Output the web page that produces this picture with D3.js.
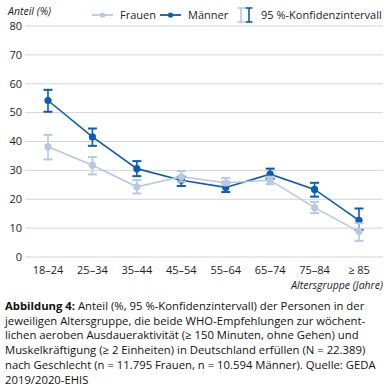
<!DOCTYPE html>
<html>
<head>
<meta charset="utf-8">
<script src="https://cdn.jsdelivr.net/npm/d3@7"></script>
<style>
  body { margin: 0; background: #fff; }
  text { font-family: "Open Sans", sans-serif; fill: #1c1c2c; }
</style>
</head>
<body>
<svg id="vis"></svg>
<script>
const WIDTH = 387;
const HEIGHT = 387;

const groups = ["18–24", "25–34", "35–44", "45–54", "55–64", "65–74", "75–84", "≥ 85"];
const yTicks = [0, 10, 20, 30, 40, 50, 60, 70, 80];

// Frauen: value, lower, upper
const frauen = [38.2, 31.8, 24.3, 27.8, 25.7, 26.6, 17.1, 8.8];
const frauenLo = [33.8, 28.6, 22.0, 26.1, 24.9, 25.2, 15.2, 5.6];
const frauenHi = [42.3, 34.6, 26.6, 29.8, 27.4, 27.8, 19.1, 11.7];

// Männer
const maenner = [54.2, 41.6, 30.6, 26.6, 24.1, 28.7, 23.4, 12.7];
const maennerLo = [50.3, 38.5, 28.0, 24.6, 22.5, 27.1, 20.9, 9.4];
const maennerHi = [57.9, 44.5, 33.2, 27.8, 25.8, 30.6, 25.7, 16.8];

const captionLines = [
  ["Abbildung 4:", " Anteil (%, 95 %-Konfidenzintervall) der Personen in der"],
  ["", "jeweiligen Altersgruppe, die beide WHO-Empfehlungen zur wöchent-"],
  ["", "lichen aeroben Ausdaueraktivität (≥ 150 Minuten, ohne Gehen) und"],
  ["", "Muskelkräftigung (≥ 2 Einheiten) in Deutschland erfüllen (N = 22.389)"],
  ["", "nach Geschlecht (n = 11.795 Frauen, n = 10.594 Männer). Quelle: GEDA"],
  ["", "2019/2020-EHIS"]
];

const C_F = "#b8c8e3";
const C_M = "#0d5cb3";

const margin = {top: 26, right: 4, bottom: 130, left: 25};

const svg = d3.select("#vis").attr("width", WIDTH).attr("height", HEIGHT);

const x = d3.scalePoint()
  .domain(groups)
  .range([48, 359]);

const y = d3.scaleLinear()
  .domain([0, 80])
  .range([257, 26]);

// gridlines
svg.append("g")
  .selectAll("line")
  .data(yTicks)
  .join("line")
  .attr("x1", margin.left)
  .attr("x2", WIDTH - margin.right)
  .attr("y1", d => y(d))
  .attr("y2", d => y(d))
  .attr("stroke", "#d4d4d4")
  .attr("stroke-width", 1);

// y labels
svg.append("g")
  .selectAll("text")
  .data(yTicks)
  .join("text")
  .attr("x", 22)
  .attr("y", d => y(d))
  .attr("dy", "0.35em")
  .attr("text-anchor", "end")
  .attr("font-size", 11)
  .text(d => d);

// x labels
svg.append("g")
  .selectAll("text")
  .data(groups)
  .join("text")
  .attr("x", d => x(d))
  .attr("y", 274)
  .attr("text-anchor", "middle")
  .attr("font-size", 11)
  .text(d => d);

svg.append("text")
  .attr("x", 383)
  .attr("y", 289)
  .attr("text-anchor", "end")
  .attr("font-size", 10.5)
  .attr("font-style", "italic")
  .text("Altersgruppe (Jahre)");

svg.append("text")
  .attr("x", 8)
  .attr("y", 15)
  .attr("font-size", 10.5)
  .attr("font-style", "italic")
  .text("Anteil (%)");

function drawSeries(vals, lo, hi, color) {
  const g = svg.append("g");
  const line = d3.line()
    .x((d, i) => x(groups[i]))
    .y(d => y(d));
  g.append("path")
    .datum(vals)
    .attr("d", line)
    .attr("fill", "none")
    .attr("stroke", color)
    .attr("stroke-width", 1.6);
  const eb = g.selectAll(".eb")
    .data(vals.map((v, i) => ({g: groups[i], lo: lo[i], hi: hi[i]})))
    .join("g");
  eb.append("line")
    .attr("x1", d => x(d.g)).attr("x2", d => x(d.g))
    .attr("y1", d => y(d.lo)).attr("y2", d => y(d.hi))
    .attr("stroke", color).attr("stroke-width", 1.6);
  [d => d.lo, d => d.hi].forEach(f => {
    eb.append("line")
      .attr("x1", d => x(d.g) - 4.5).attr("x2", d => x(d.g) + 4.5)
      .attr("y1", d => y(f(d))).attr("y2", d => y(f(d)))
      .attr("stroke", color).attr("stroke-width", 2);
  });
  g.selectAll("circle")
    .data(vals)
    .join("circle")
    .attr("cx", (d, i) => x(groups[i]))
    .attr("cy", d => y(d))
    .attr("r", 3.6)
    .attr("fill", color);
}

drawSeries(maenner, maennerLo, maennerHi, C_M);
drawSeries(frauen, frauenLo, frauenHi, C_F);

// legend
const leg = svg.append("g");
const legItems = [
  {label: "Frauen", color: C_F, x0: 92},
  {label: "Männer", color: C_M, x0: 160}
];
legItems.forEach(it => {
  leg.append("line")
    .attr("x1", it.x0).attr("x2", it.x0 + 21)
    .attr("y1", 15).attr("y2", 15)
    .attr("stroke", it.color).attr("stroke-width", 1.8);
  leg.append("circle")
    .attr("cx", it.x0 + 10.5).attr("cy", 15).attr("r", 2.6)
    .attr("fill", it.color);
  leg.append("text")
    .attr("x", it.x0 + 28).attr("y", 15).attr("dy", "0.35em")
    .attr("font-size", 11)
    .text(it.label);
});
// CI icon
[[C_F, 241], [C_M, 249]].forEach(([c, cx]) => {
  leg.append("line").attr("x1", cx).attr("x2", cx).attr("y1", 8).attr("y2", 22)
    .attr("stroke", c).attr("stroke-width", 1.6);
  [8, 22].forEach(yy => leg.append("line")
    .attr("x1", cx - 3.5).attr("x2", cx + 3.5).attr("y1", yy).attr("y2", yy)
    .attr("stroke", c).attr("stroke-width", 1.6));
});
leg.append("text")
  .attr("x", 261).attr("y", 15).attr("dy", "0.35em")
  .attr("font-size", 11)
  .text("95 %-Konfidenzintervall");

// caption
const cap = svg.append("text")
  .attr("font-size", 11.3)
  .style("fill", "#111");
captionLines.forEach((ln, i) => {
  const t = cap.append("tspan").attr("x", 5).attr("y", 310 + i * 14.7);
  if (ln[0]) t.append("tspan").attr("font-weight", "bold").text(ln[0]);
  t.append("tspan").text(ln[1]);
});
</script>
</body>
</html>
